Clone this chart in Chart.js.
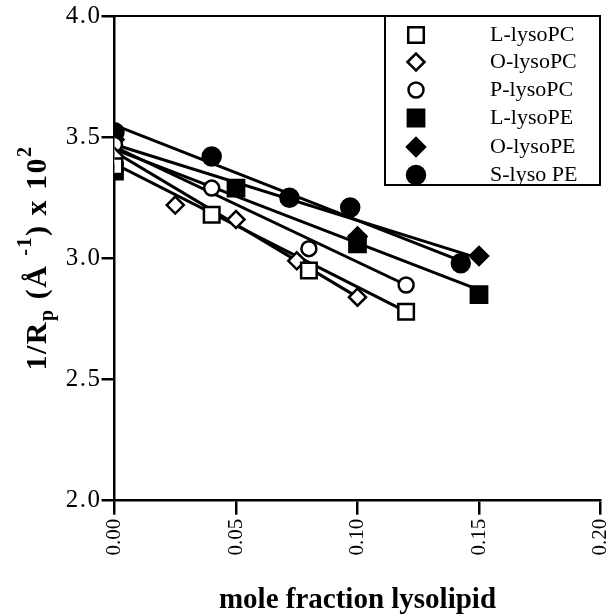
<!DOCTYPE html>
<html>
<head>
<meta charset="utf-8">
<script src="https://cdn.jsdelivr.net/npm/chart.js@4/dist/chart.umd.min.js"></script>
<style>
  html, body { margin: 0; padding: 0; background: #fff; }
  #wrap { width: 610px; height: 614px; }
</style>
</head>
<body>
<div id="wrap"><canvas id="chart" width="610" height="614"></canvas></div>
<script>
// values
const names = ['L-lysoPC', 'O-lysoPC', 'P-lysoPC', 'L-lysoPE', 'O-lysoPE', 'S-lyso PE']

const lPC_x = [0, 0.04, 0.08, 0.12]
const lPC_y = [3.38, 3.18, 2.95, 2.78]
const oPC_x = [0, 0.025, 0.05, 0.075, 0.10]
const oPC_y = [3.42, 3.22, 3.16, 2.99, 2.84]
const pPC_x = [0, 0.04, 0.08, 0.12]
const pPC_y = [3.47, 3.29, 3.04, 2.89]
const lPE_x = [0, 0.05, 0.10, 0.15]
const lPE_y = [3.36, 3.29, 3.06, 2.85]
const oPE_x = [0, 0.10, 0.15]
const oPE_y = [3.49, 3.09, 3.01]
const sPE_x = [0, 0.04, 0.072, 0.097, 0.1425]
const sPE_y = [3.52, 3.42, 3.25, 3.21, 2.98]

// fitted lines as drawn: [x start, x end], [y start, y end]
const fit_x = [[0, 0.12], [0, 0.10], [0, 0.12], [0, 0.15], [0, 0.15], [0, 0.1425]]
const fit_y = [[3.39, 2.78], [3.44, 2.84], [3.46, 2.89], [3.45, 2.87], [3.47, 3.00], [3.55, 2.99]]

const yTicks = [2.0, 2.5, 3.0, 3.5, 4.0]
const xTicks = [0, 0.05, 0.10, 0.15, 0.20]

const styles = [
    { pointStyle: 'rect', radius: 11, fill: '#fff' },
    { pointStyle: 'rectRot', radius: 8.5, fill: '#fff' },
    { pointStyle: 'circle', radius: 7.5, fill: '#fff' },
    { pointStyle: 'rect', radius: 11.5, fill: '#000' },
    { pointStyle: 'rectRot', radius: 9, fill: '#000' },
    { pointStyle: 'circle', radius: 9, fill: '#000' },
]

const xs = [lPC_x, oPC_x, pPC_x, lPE_x, oPE_x, sPE_x]
const ys = [lPC_y, oPC_y, pPC_y, lPE_y, oPE_y, sPE_y]

const pts = (x, y) => x.map((v, i) => ({ x: v, y: y[i] }))

const markerSets = names.map((name, i) => ({
    label: name,
    type: 'scatter',
    data: pts(xs[i], ys[i]),
    pointStyle: styles[i].pointStyle,
    pointRadius: styles[i].radius,
    pointHoverRadius: styles[i].radius,
    pointBackgroundColor: styles[i].fill,
    pointBorderColor: '#000',
    pointBorderWidth: 2.5,
    showLine: false,
    order: 1,
}))

const fitSets = names.map((name, i) => ({
    label: name + ' fit',
    type: 'line',
    data: pts(fit_x[i], fit_y[i]),
    borderColor: '#000',
    borderWidth: 3,
    pointRadius: 0,
    fill: false,
    order: 2,
}))

const serif = '"Liberation Serif", "Times New Roman", serif'

// top frame line plus the boxed legend in the upper right
const legendBox = {
    id: 'legendBox',
    afterDatasetsDraw(chart) {
        const { ctx, chartArea } = chart
        const left = 385, top = 16, right = 600, bottom = 185
        ctx.save()
        ctx.strokeStyle = '#000'
        ctx.lineWidth = 2
        ctx.beginPath()
        ctx.moveTo(chartArea.left, chartArea.top)
        ctx.lineTo(chartArea.right, chartArea.top)
        ctx.stroke()
        ctx.fillStyle = '#fff'
        ctx.fillRect(left, top, right - left, bottom - top)
        ctx.strokeRect(left, top, right - left, bottom - top)
        const rows = [35, 62, 90, 118, 147, 175]
        names.forEach((name, i) => {
            ctx.fillStyle = styles[i].fill
            ctx.strokeStyle = '#000'
            ctx.lineWidth = 2.5
            Chart.helpers.drawPoint(ctx, {
                pointStyle: styles[i].pointStyle,
                radius: styles[i].radius,
                rotation: 0,
                borderWidth: 2.5,
            }, 416, rows[i])
            ctx.fillStyle = '#000'
            ctx.font = '22px ' + serif
            ctx.textBaseline = 'middle'
            ctx.textAlign = 'left'
            ctx.fillText(name, 490, rows[i])
        })
        ctx.restore()
        // y tick labels (z: 1) are drawn next; the original uses a wide face
        ctx.letterSpacing = '1.5px'
    }
}

// y axis title with sub- and superscripts
const yTitle = {
    id: 'yTitle',
    afterDraw(chart) {
        const { ctx } = chart
        ctx.letterSpacing = '0px'
        const big = 'bold 30px ' + serif
        const small = 'bold 20px ' + serif
        const parts = [
            { t: '1/R', f: big, dy: 0 },
            { t: 'p', f: small, dy: 10 },
            { t: ' (Å ', f: big, dy: 0 },
            { t: '-1', f: small, dy: -12 },
            { t: ') x 10', f: big, dy: 0 },
            { t: '2', f: small, dy: -12 },
        ]
        ctx.save()
        ctx.letterSpacing = '1.5px'
        let total = 0
        parts.forEach(p => { ctx.font = p.f; p.w = ctx.measureText(p.t).width; total += p.w })
        ctx.translate(38, 258)
        ctx.rotate(-Math.PI / 2)
        ctx.fillStyle = '#000'
        ctx.textBaseline = 'middle'
        ctx.textAlign = 'left'
        let x = -total / 2
        parts.forEach(p => {
            ctx.font = p.f
            ctx.fillText(p.t, x, p.dy)
            x += p.w
        })
        ctx.restore()
    }
}

new Chart(document.getElementById('chart'), {
    type: 'scatter',
    data: { datasets: [...markerSets, ...fitSets] },
    options: {
        responsive: false,
        animation: false,
        layout: { autoPadding: false, padding: { left: 0, right: 9.5, top: 16, bottom: 0 } },
        plugins: {
            legend: { display: false },
            tooltip: { enabled: false },
        },
        scales: {
            x: {
                type: 'linear',
                min: 0,
                max: 0.2,
                afterFit: s => { s.height = 113.3; s.paddingLeft = 0; s.paddingRight = 0 },
                afterBuildTicks: s => { s.ticks = xTicks.map(v => ({ value: v })) },
                border: { color: '#000', width: 2.5 },
                grid: { drawOnChartArea: false, drawTicks: true, tickLength: 14, color: '#000', lineWidth: 2.5 },
                ticks: {
                    color: '#000',
                    font: { family: serif, size: 21 },
                    minRotation: 90,
                    maxRotation: 90,
                    padding: 4,
                    callback: v => Number(v).toFixed(2),
                },
                title: {
                    display: true,
                    text: 'mole fraction lysolipid',
                    color: '#000',
                    font: { family: serif, size: 29, weight: 'bold' },
                    padding: { top: 0, bottom: -4 },
                },
            },
            y: {
                type: 'linear',
                min: 2,
                max: 4,
                afterFit: s => { s.width = 114.5; s.paddingTop = 0; s.paddingBottom = 0 },
                afterBuildTicks: s => { s.ticks = yTicks.map(v => ({ value: v })) },
                border: { color: '#000', width: 2.5 },
                grid: { drawOnChartArea: false, drawTicks: true, tickLength: 13, color: '#000', lineWidth: 2.5 },
                ticks: {
                    z: 1,
                    color: '#000',
                    font: { family: serif, size: 25 },
                    padding: 0,
                    callback: v => Number(v).toFixed(1),
                },
            },
        },
    },
    plugins: [legendBox, yTitle],
})
</script>
</body>
</html>
